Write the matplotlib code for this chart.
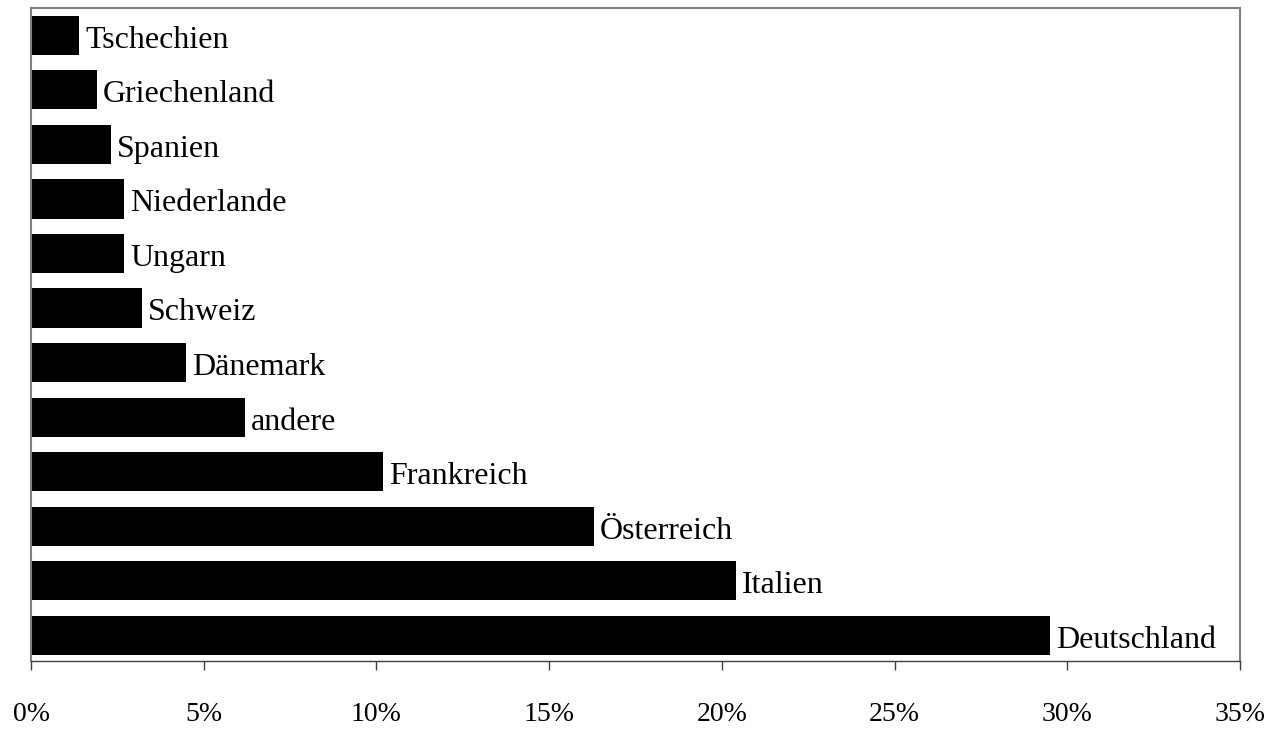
import matplotlib.pyplot as plt
from matplotlib.ticker import FuncFormatter

plt.rcParams['font.family'] = ['Liberation Serif', 'DejaVu Serif']

# Anteile in Prozent, von unten nach oben
laender = ['Deutschland', 'Italien', 'Österreich', 'Frankreich', 'andere', 'Dänemark',
           'Schweiz', 'Ungarn', 'Niederlande', 'Spanien', 'Griechenland', 'Tschechien']
anteile = [29.5, 20.4, 16.3, 10.2, 6.2, 4.5, 3.2, 2.7, 2.7, 2.3, 1.9, 1.4]
xticks = [0, 5, 10, 15, 20, 25, 30, 35]

fig = plt.figure(figsize=(12.78, 7.29), dpi=100)
ax = fig.add_axes([0.0243, 0.0933, 0.946, 0.8957])

pos = range(len(laender))
ax.barh(pos, anteile, height=0.72, color='black')
for y, v, name in zip(pos, anteile, laender):
    ax.text(v + 0.17, y - 0.09, name, va='center', ha='left', fontsize=23)

ax.set_xlim(0, 35)
ax.set_ylim(-0.47, len(laender) - 0.5)
ax.set_xticks(xticks)
ax.xaxis.set_major_formatter(FuncFormatter(lambda x, _: f'{x:.0f}%'))
ax.set_yticks([])
ax.tick_params(axis='x', direction='out', length=6.5, width=1, color='#404040',
               labelsize=20, pad=23)

for s in ['left', 'top', 'right']:
    ax.spines[s].set_color('#808080')
    ax.spines[s].set_linewidth(1.5)
ax.spines['bottom'].set_color('#404040')
ax.spines['bottom'].set_linewidth(1.0)

fig.savefig('out.png', dpi=100)
